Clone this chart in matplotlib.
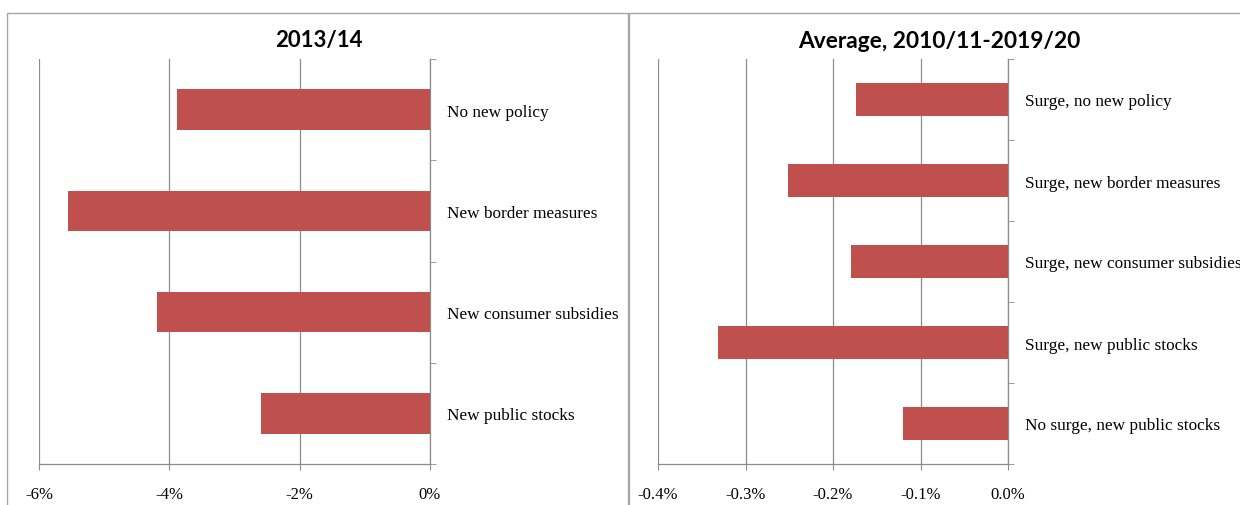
import matplotlib
matplotlib.use("Agg")
import matplotlib.pyplot as plt
from matplotlib.ticker import FuncFormatter
from matplotlib.patches import Rectangle

# ── Dados ─────────────────────────────────────────────────────────────
left_title = "2013/14"
left_labels = ["No new policy", "New border measures",
               "New consumer subsidies", "New public stocks"]
left_values = [-3.88, -5.55, -4.19, -2.59]
left_ticks = [-6, -4, -2, 0]

right_title = "Average, 2010/11-2019/20"
right_labels = ["Surge, no new policy", "Surge, new border measures",
                "Surge, new consumer subsidies", "Surge, new public stocks",
                "No surge, new public stocks"]
right_values = [-0.174, -0.251, -0.179, -0.331, -0.120]
right_ticks = [-0.4, -0.3, -0.2, -0.1, 0.0]

BAR = "#C0504D"
GRID = "#8C8C8C"
SERIF = "Liberation Serif"

fig = plt.figure(figsize=(12.4, 5.06), dpi=100)

# molduras dos dois painéis
for x0, w in [(7, 621), (629, 640)]:
    fig.patches.append(Rectangle((x0 / 1240, -0.05), w / 1240, 1 - 14 / 506 + 0.05,
                                 transform=fig.transFigure, fill=False,
                                 edgecolor="#A6A6A6", linewidth=1.0))


def painel(rect, title, labels, values, ticks, fmt, title_x, title_size):
    ax = fig.add_axes(rect)
    n = len(labels)
    pos = list(range(n))
    ax.barh(pos, values, height=0.4, color=BAR, zorder=3)
    ax.set_ylim(n - 0.5, -0.5)
    ax.set_xlim(ticks[0], ticks[-1])
    ax.set_xticks(ticks)
    ax.xaxis.set_major_formatter(FuncFormatter(fmt))
    ax.grid(axis="x", color=GRID, linewidth=0.9, zorder=0)

    # rótulos das categorias à direita do eixo zero
    ax.yaxis.tick_right()
    ax.set_yticks(pos)
    ax.set_yticklabels(labels, fontfamily=SERIF, fontsize=12.4)
    ax.tick_params(axis="y", which="major", length=0, pad=12)
    ax.set_yticks([i + 0.5 for i in range(-1, n)], minor=True)
    ax.tick_params(axis="y", which="minor", length=4, color=GRID, direction="out")

    ax.tick_params(axis="x", length=4, color=GRID, pad=12, labelsize=12)
    for t in ax.get_xticklabels():
        t.set_fontfamily(SERIF)

    ax.spines["top"].set_visible(False)
    ax.spines["left"].set_visible(False)
    for s in ("right", "bottom"):
        ax.spines[s].set_color(GRID)
        ax.spines[s].set_linewidth(0.9)

    fig.text(title_x, 1 - 41 / 506, title, ha="center", va="center",
             fontfamily="Lato", fontweight="bold", fontsize=title_size)
    return ax


painel([39 / 1240, 1 - 465 / 506, 391 / 1240, 405 / 506],
       left_title, left_labels, left_values, left_ticks,
       lambda v, p: f"{v:.0f}%", 318.5 / 1240, 16)
painel([658 / 1240, 1 - 465 / 506, 350 / 1240, 405 / 506],
       right_title, right_labels, right_values, right_ticks,
       lambda v, p: f"{v:.1f}%", 939.5 / 1240, 16.4)

fig.savefig("out.png", dpi=100)
